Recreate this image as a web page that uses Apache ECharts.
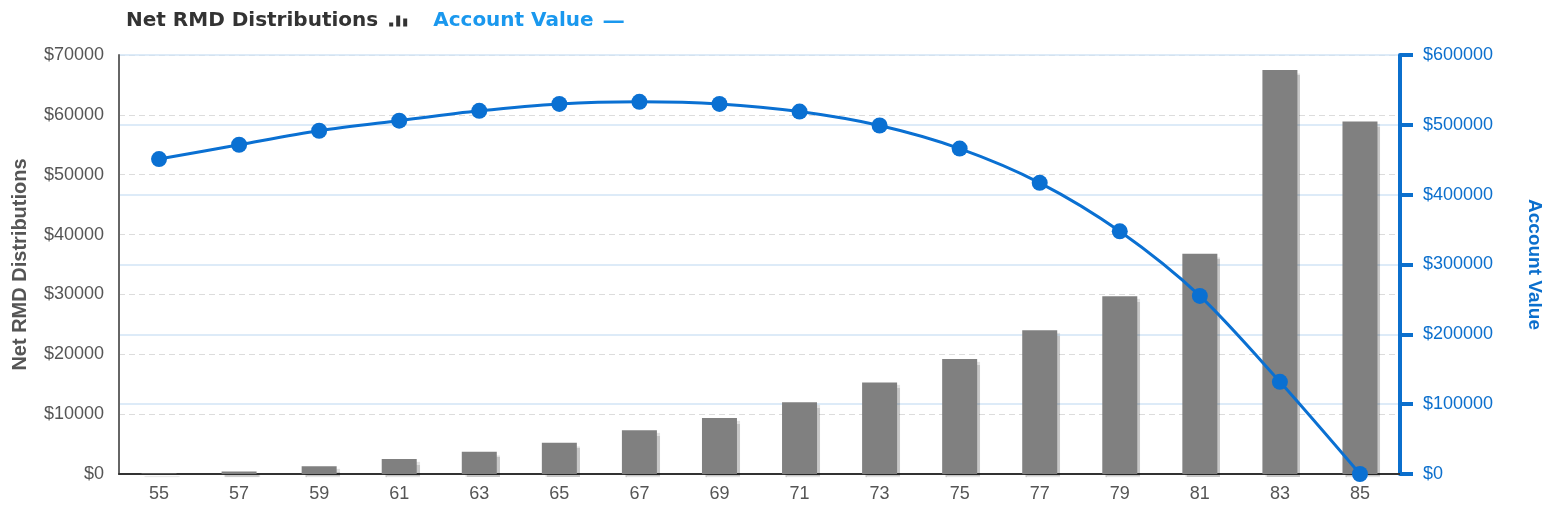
<!DOCTYPE html>
<html>
<head>
<meta charset="utf-8">
<script src="https://cdn.jsdelivr.net/npm/echarts@6/dist/echarts.min.js"></script>
<style>
html,body{margin:0;padding:0;background:#fff;}
#chart{width:1548px;height:521px;}
</style>
</head>
<body>
<div id="chart"></div>
<script>
const ages = ['55','57','59','61','63','65','67','69','71','73','75','77','79','81','83','85'];
const netRmd = [100, 400, 1300, 2500, 3700, 5200, 7300, 9350, 12000, 15300, 19200, 24000, 29700, 36800, 67500, 58900];
const accountValue = [451000, 471500, 491500, 506000, 520000, 530000, 533000, 530000, 519000, 499000, 466000, 417000, 347500, 255000, 132000, 0];
const leftTicks = {min: 0, max: 70000, interval: 10000};
const rightTicks = {min: 0, max: 600000, interval: 100000};

const chart = echarts.init(document.getElementById('chart'));
const fontAxis = '"Liberation Sans", Arial, sans-serif';
const fontLegend = '"DejaVu Sans", sans-serif';

chart.setOption({
  animation: false,
  backgroundColor: '#fff',
  legend: {
    left: 121,
    top: 6,
    align: 'right',
    itemGap: 26,
    itemWidth: 20,
    itemHeight: 11,
    selectedMode: false,
    textStyle: {fontFamily: fontLegend, fontWeight: 'bold', fontSize: 20, padding: [0, 5, 0, 0]},
    data: [
      {name: 'Net RMD Distributions', icon: 'path://M0,0 M0,7h4v4H0z M7,0h4v11H7z M14,3h4v8h-4z', itemStyle: {color: '#333'}, textStyle: {color: '#333'}},
      {name: 'Account Value', icon: 'path://M0,0 M0,5h20v2.5H0z M20,11', itemStyle: {color: '#1a98ee'}, textStyle: {color: '#1a98ee'}}
    ]
  },
  grid: {left: 119, right: 148, top: 55, bottom: 47, containLabel: false, outerBoundsMode: 'none'},
  xAxis: {
    type: 'category',
    data: ages,
    axisLine: {lineStyle: {color: '#333', width: 2}},
    axisTick: {show: false},
    axisLabel: {color: '#555', fontFamily: fontAxis, fontSize: 18, margin: 11}
  },
  yAxis: [
    {
      type: 'value',
      min: leftTicks.min, max: leftTicks.max, interval: leftTicks.interval,
      name: 'Net RMD Distributions',
      nameLocation: 'middle',
      nameGap: 89,
      nameTextStyle: {color: '#555', fontFamily: fontAxis, fontWeight: 'bold', fontSize: 20},
      axisLine: {show: true, lineStyle: {color: '#666', width: 2}},
      axisTick: {show: false},
      axisLabel: {color: '#555', fontFamily: fontAxis, fontSize: 18, margin: 15, formatter: v => '$' + v},
      splitLine: {show: true, lineStyle: {color: '#dcdcdc', type: [6, 4], width: 1}}
    },
    {
      type: 'value',
      position: 'right',
      min: rightTicks.min, max: rightTicks.max, interval: rightTicks.interval,
      name: 'Account Value',
      nameLocation: 'middle',
      nameGap: 125,
      nameRotate: -90,
      nameTextStyle: {color: '#0b6fcd', fontFamily: fontAxis, fontWeight: 'bold', fontSize: 19},
      axisLine: {show: true, lineStyle: {color: '#0b6fcd', width: 4}},
      axisTick: {show: true, length: 13, lineStyle: {color: '#0b6fcd', width: 4}},
      axisLabel: {color: '#0b6fcd', fontFamily: fontAxis, fontSize: 18, margin: 23, formatter: v => '$' + v},
      splitLine: {show: true, lineStyle: {color: '#d2e5f6', width: 1.5}}
    }
  ],
  series: [
    {
      name: 'Net RMD Distributions',
      type: 'bar',
      yAxisIndex: 0,
      data: netRmd,
      barWidth: 35,
      itemStyle: {color: '#808080', shadowColor: 'rgba(0,0,0,0.22)', shadowOffsetX: 3, shadowOffsetY: 3, shadowBlur: 1}
    },
    {
      name: 'Account Value',
      type: 'line',
      yAxisIndex: 1,
      data: accountValue,
      smooth: 0.3,
      symbol: 'circle',
      symbolSize: 16,
      lineStyle: {color: '#0a70d2', width: 3},
      itemStyle: {color: '#0a70d2'},
      z: 5
    }
  ]
});
</script>
</body>
</html>
